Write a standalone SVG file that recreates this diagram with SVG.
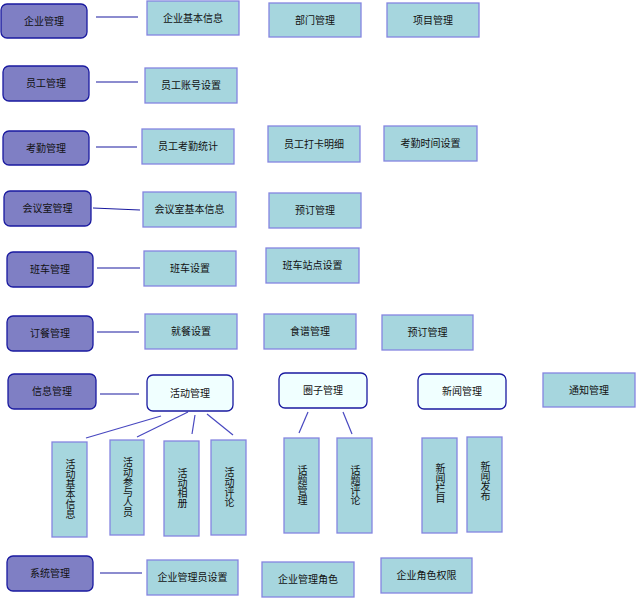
<svg xmlns="http://www.w3.org/2000/svg" width="636" height="598" viewBox="0 0 636 598">
<style>
text{font-family:"Liberation Sans","Noto Sans CJK SC",sans-serif;font-size:10px;fill:#111;text-anchor:middle;dominant-baseline:central}
.m{fill:#7F7FC4;stroke:#1A1AA0;stroke-width:1.3}
.w{fill:#F0FFFF;stroke:#1A1AA0;stroke-width:1.3}
.b{fill:#A6D6DE;stroke:#8585E0;stroke-width:1.3}
.v{writing-mode:vertical-rl;text-orientation:upright}
#connectors line{stroke:#1A1AA0;stroke-width:1.2}
#connectors .s{stroke:#4848C0}
</style>
<rect width="636" height="598" fill="#fff"/>
<g id="connectors">
<line x1="96" y1="17" x2="138" y2="17"/>
<line x1="96" y1="82" x2="138" y2="82"/>
<line x1="96" y1="147" x2="137" y2="147"/>
<line x1="93" y1="208" x2="140" y2="210"/>
<line x1="97" y1="268" x2="140" y2="268"/>
<line x1="97" y1="332" x2="139" y2="332"/>
<line x1="100" y1="394" x2="139" y2="394"/>
<line x1="100" y1="573" x2="142" y2="573"/>
<line class="s" x1="161" y1="416" x2="86" y2="438"/>
<line class="s" x1="188" y1="412" x2="137" y2="437"/>
<line class="s" x1="195" y1="415" x2="192" y2="434"/>
<line class="s" x1="207" y1="414" x2="233" y2="435"/>
<line class="s" x1="308" y1="412" x2="299" y2="433"/>
<line class="s" x1="343" y1="412" x2="352" y2="434"/>
</g>
<g id="n1"><rect class="m" x="1" y="4" width="86" height="34" rx="6"/><text x="44" y="21">企业管理</text></g>
<g id="n1a"><rect class="b" x="147" y="1" width="92" height="34"/><text x="193" y="18">企业基本信息</text></g>
<g id="n1b"><rect class="b" x="269" y="3" width="92" height="34"/><text x="315" y="20">部门管理</text></g>
<g id="n1c"><rect class="b" x="387" y="3" width="92" height="34"/><text x="433" y="20">项目管理</text></g>
<g id="n2"><rect class="m" x="3" y="66" width="86" height="35" rx="6"/><text x="46" y="83.5">员工管理</text></g>
<g id="n2a"><rect class="b" x="145" y="68" width="92" height="35"/><text x="191" y="85.5">员工账号设置</text></g>
<g id="n3"><rect class="m" x="3" y="131" width="86" height="34" rx="6"/><text x="46" y="148">考勤管理</text></g>
<g id="n3a"><rect class="b" x="142" y="129" width="92" height="35"/><text x="188" y="146.5">员工考勤统计</text></g>
<g id="n3b"><rect class="b" x="268" y="126" width="92" height="36"/><text x="314" y="144">员工打卡明细</text></g>
<g id="n3c"><rect class="b" x="384" y="126" width="93" height="35"/><text x="430.5" y="143.5">考勤时间设置</text></g>
<g id="n4"><rect class="m" x="4" y="191" width="87" height="35" rx="6"/><text x="47.5" y="208.5">会议室管理</text></g>
<g id="n4a"><rect class="b" x="143" y="192" width="93" height="35"/><text x="189.5" y="209.5">会议室基本信息</text></g>
<g id="n4b"><rect class="b" x="269" y="193" width="92" height="35"/><text x="315" y="210.5">预订管理</text></g>
<g id="n5"><rect class="m" x="7" y="252" width="86" height="35" rx="6"/><text x="50" y="269.5">班车管理</text></g>
<g id="n5a"><rect class="b" x="144" y="251" width="92" height="35"/><text x="190" y="268.5">班车设置</text></g>
<g id="n5b"><rect class="b" x="266" y="248" width="93" height="35"/><text x="312.5" y="265.5">班车站点设置</text></g>
<g id="n6"><rect class="m" x="7" y="316" width="86" height="35" rx="6"/><text x="50" y="333.5">订餐管理</text></g>
<g id="n6a"><rect class="b" x="145" y="314" width="92" height="35"/><text x="191" y="331.5">就餐设置</text></g>
<g id="n6b"><rect class="b" x="264" y="314" width="92" height="35"/><text x="310" y="331.5">食谱管理</text></g>
<g id="n6c"><rect class="b" x="382" y="315" width="91" height="35"/><text x="427.5" y="332.5">预订管理</text></g>
<g id="n7"><rect class="m" x="8" y="374" width="88" height="35" rx="6"/><text x="52" y="391.5">信息管理</text></g>
<g id="n7a"><rect class="w" x="147" y="375" width="86" height="36" rx="6"/><text x="190" y="393">活动管理</text></g>
<g id="n7b"><rect class="w" x="279" y="373" width="88" height="35" rx="6"/><text x="323" y="390.5">圈子管理</text></g>
<g id="n7c"><rect class="w" x="418" y="374" width="88" height="35" rx="6"/><text x="462" y="391.5">新闻管理</text></g>
<g id="n7d"><rect class="b" x="543" y="373" width="92" height="34"/><text x="589" y="390">通知管理</text></g>
<g id="n7a1"><rect class="b" x="52" y="442" width="35" height="95"/><text class="v" x="69.5" y="489.5">活动基本信息</text></g>
<g id="n7a2"><rect class="b" x="110" y="440" width="34" height="95"/><text class="v" x="127" y="487.5">活动参与人员</text></g>
<g id="n7a3"><rect class="b" x="164" y="441" width="35" height="95"/><text class="v" x="181.5" y="488.5">活动相册</text></g>
<g id="n7a4"><rect class="b" x="211" y="440" width="35" height="95"/><text class="v" x="228.5" y="487.5">活动评论</text></g>
<g id="n7b1"><rect class="b" x="284" y="438" width="35" height="95"/><text class="v" x="301.5" y="485.5">话题管理</text></g>
<g id="n7b2"><rect class="b" x="337" y="438" width="35" height="95"/><text class="v" x="354.5" y="485.5">话题评论</text></g>
<g id="n7c1"><rect class="b" x="422" y="438" width="35" height="95"/><text class="v" x="439.5" y="483">新闻栏目</text></g>
<g id="n7c2"><rect class="b" x="467" y="437" width="35" height="95"/><text class="v" x="484.5" y="481">新闻发布</text></g>
<g id="n8"><rect class="m" x="7" y="556" width="86" height="35" rx="6"/><text x="50" y="573.5">系统管理</text></g>
<g id="n8a"><rect class="b" x="147" y="560" width="91" height="35"/><text x="192.5" y="577.5">企业管理员设置</text></g>
<g id="n8b"><rect class="b" x="262" y="562" width="92" height="35"/><text x="308" y="579.5">企业管理角色</text></g>
<g id="n8c"><rect class="b" x="381" y="558" width="91" height="35"/><text x="426.5" y="575.5">企业角色权限</text></g>
</svg>
